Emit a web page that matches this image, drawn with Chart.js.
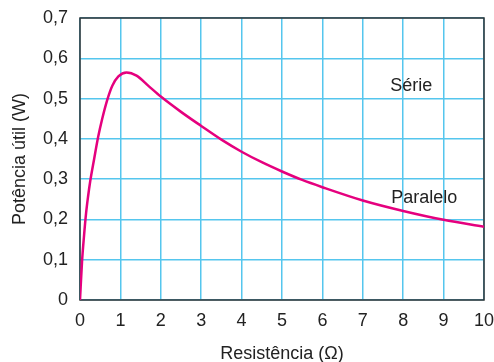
<!DOCTYPE html>
<html>
<head>
<meta charset="utf-8">
<script src="https://cdn.jsdelivr.net/npm/chart.js@4"></script>
<style>
  html, body { margin: 0; padding: 0; background: #fff; }
  #wrap { width: 494px; height: 362px; }
</style>
</head>
<body>
<div id="wrap"><canvas id="c" width="494" height="362"></canvas></div>
<script>
// Data
const resistance = [0, 0.05, 0.1, 0.15, 0.2, 0.25, 0.35, 0.45, 0.55, 0.675, 0.8, 0.95, 1.15, 1.4, 1.7, 2, 2.5, 3, 3.5, 4, 4.5, 5, 5.5, 6, 7, 8, 9, 10];
const power      = [0, 0.095, 0.16, 0.215, 0.257, 0.293, 0.35, 0.405, 0.45, 0.497, 0.532, 0.555, 0.565, 0.557, 0.531, 0.505, 0.467, 0.432, 0.398, 0.368, 0.342, 0.319, 0.298, 0.28, 0.247, 0.221, 0.199, 0.182];
const xTicks = [0, 1, 2, 3, 4, 5, 6, 7, 8, 9, 10];
const yTicks = [0, 0.1, 0.2, 0.3, 0.4, 0.5, 0.6, 0.7];
const annotations = [
  { text: 'Série', x: 8.2, y: 0.532 },
  { text: 'Paralelo', x: 8.52, y: 0.254 }
];

const FONT = "'Liberation Sans', Arial, Helvetica, sans-serif";
const fmt = v => String(Math.round(v * 10) / 10).replace('.', ',');

const framePlugin = {
  id: 'frame',
  beforeDatasetsDraw(chart) {
    const { ctx, chartArea: a } = chart;
    ctx.save();
    ctx.strokeStyle = '#333333';
    ctx.lineWidth = 1.5;
    ctx.strokeRect(a.left, a.top, a.right - a.left, a.bottom - a.top);
    ctx.restore();
  },
  afterDatasetsDraw(chart) {
    const { ctx, scales } = chart;
    ctx.save();
    ctx.fillStyle = '#222222';
    ctx.font = '18px ' + FONT;
    ctx.textAlign = 'center';
    ctx.textBaseline = 'middle';
    annotations.forEach(an => {
      ctx.fillText(an.text, scales.x.getPixelForValue(an.x), scales.y.getPixelForValue(an.y));
    });
    ctx.restore();
  }
};

new Chart(document.getElementById('c'), {
  type: 'scatter',
  data: {
    datasets: [{
      data: resistance.map((r, i) => ({ x: r, y: power[i] })),
      showLine: true,
      borderColor: '#e5007e',
      borderWidth: 2.5,
      pointRadius: 0,
      cubicInterpolationMode: 'monotone',
      fill: false
    }]
  },
  options: {
    responsive: false,
    animation: false,
    devicePixelRatio: 1,
    layout: { padding: { top: 18, right: 10, left: 0, bottom: 0 } },
    plugins: { legend: { display: false }, tooltip: { enabled: false } },
    scales: {
      x: {
        type: 'linear',
        min: 0, max: 10,
        afterBuildTicks: s => { s.ticks = xTicks.map(v => ({ value: v })); },
        afterFit: s => { s.height = 62; s.paddingLeft = 0; s.paddingRight = 0; },
        grid: { color: '#55c6ee', lineWidth: 1.5, drawTicks: false },
        border: { display: false },
        ticks: { color: '#222222', font: { family: FONT, size: 18 }, padding: 10, maxRotation: 0, callback: v => String(v) },
        title: { display: true, text: 'Resistência (Ω)', color: '#222222', font: { family: FONT, size: 18 }, padding: { top: 0, bottom: -3 } }
      },
      y: {
        type: 'linear',
        min: 0, max: 0.7,
        afterBuildTicks: s => { s.ticks = yTicks.map(v => ({ value: v })); },
        afterFit: s => { s.width = 80; s.paddingTop = 0; s.paddingBottom = 0; },
        grid: { color: '#55c6ee', lineWidth: 1.5, drawTicks: false },
        border: { display: false },
        ticks: { color: '#222222', font: { family: FONT, size: 18 }, padding: 12, callback: v => fmt(v) },
        title: { display: true, text: 'Potência útil (W)', color: '#222222', font: { family: FONT, size: 18 }, padding: { top: 9, bottom: 0 } }
      }
    }
  },
  plugins: [framePlugin]
});
</script>
</body>
</html>
